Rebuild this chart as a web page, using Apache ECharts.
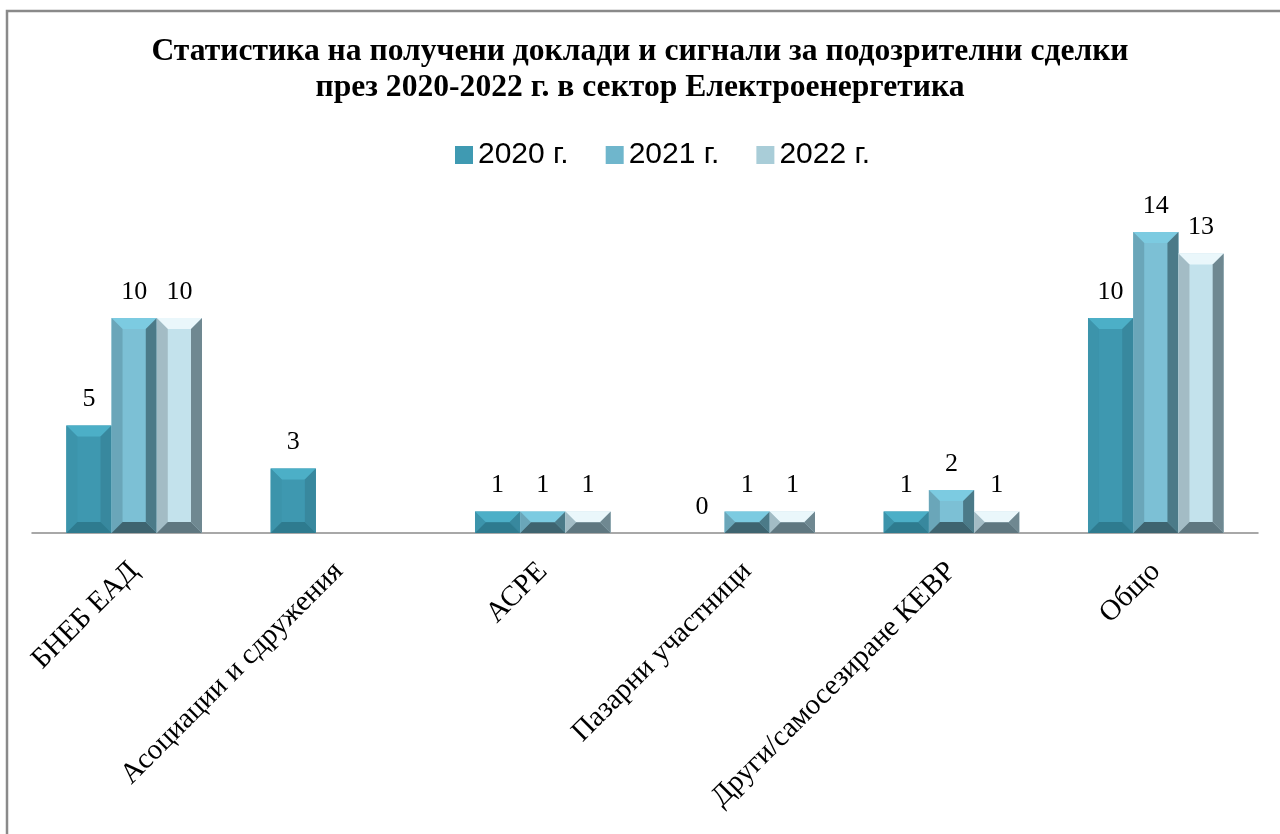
<!DOCTYPE html>
<html><head><meta charset="utf-8">
<script src="https://cdn.jsdelivr.net/npm/echarts@6/dist/echarts.min.js"></script>
<style>html,body{margin:0;padding:0;background:#fff}#c{width:1280px;height:834px}</style>
</head><body><div id="c"></div>
<script>
const categories = ['БНЕБ ЕАД','Асоциации и сдружения','АСРЕ','Пазарни участници','Други/самосезиране КЕВР','Общо'];
const seriesNames = ['2020 г.','2021 г.','2022 г.'];
const values2020 = [5, 3, 1, 0, 1, 10];
const values2021 = [10, null, 1, 1, 2, 14];
const values2022 = [10, null, 1, 1, 1, 13];
const allValues = [values2020, values2021, values2022];

// face colors
const palettes = [
  {base:'#3f9ab2', center:'#3e98b0', top:'#4cafc7', left:'#3c94ab', right:'#38889e', bottom:'#2e7b8f'},
  {base:'#6fb6cc', center:'#7cc0d5', top:'#7ccbe1', left:'#6aa6b9', right:'#4b7a88', bottom:'#3e6470'},
  {base:'#a9cdd8', center:'#c3e2ec', top:'#eaf7fb', left:'#a3bcc5', right:'#6f8891', bottom:'#5f7780'}
];

const chart = echarts.init(document.getElementById('c'));
const catGap = 0.336;

function makeRender(si){
  return function(params, api){
    const idx = api.value(0);
    const v = api.value(1);
    const band = api.size([1,0])[0];
    const bw = band*(1-catGap)/3;
    const c = api.coord([idx, 0]);
    const x0 = c[0] - band*(1-catGap)/2 + si*bw;
    const yb = c[1];
    const yt = api.coord([idx, v])[1];
    const h = yb - yt;
    const p = palettes[si];
    const children = [];
    if (h > 0.5) {
      const b = Math.min(11, h/2, bw/4);
      const x1 = x0 + bw;
      children.push({type:'rect', shape:{x:x0,y:yt,width:bw,height:h}, style:{fill:p.center}});
      children.push({type:'polygon', shape:{points:[[x0,yt],[x1,yt],[x1-b,yt+b],[x0+b,yt+b]]}, style:{fill:p.top}});
      children.push({type:'polygon', shape:{points:[[x0,yt],[x0+b,yt+b],[x0+b,yb-b],[x0,yb]]}, style:{fill:p.left}});
      children.push({type:'polygon', shape:{points:[[x1,yt],[x1,yb],[x1-b,yb-b],[x1-b,yt+b]]}, style:{fill:p.right}});
      children.push({type:'polygon', shape:{points:[[x0,yb],[x0+b,yb-b],[x1-b,yb-b],[x1,yb]]}, style:{fill:p.bottom}});
    }
    children.push({type:'text', style:{text:String(v), x:x0+bw/2, y:yt-13, textAlign:'center', textVerticalAlign:'bottom', font:'26px "Liberation Serif"', fill:'#000'}});
    return {type:'group', children:children};
  };
}

const series = seriesNames.map((name, si) => ({
  name: name,
  type: 'custom',
  renderItem: makeRender(si),
  itemStyle: {color: palettes[si].base},
  data: allValues[si].map((v,i) => v === null ? null : [i, v]).filter(d => d !== null),
  encode: {x:0, y:1}
}));

chart.setOption({
  animation: false,
  graphic: [{type:'rect', shape:{x:7, y:11, width:1290, height:840}, style:{fill:'none', stroke:'#8a8a8a', lineWidth:2.5}}],
  title: {
    text: 'Статистика на получени доклади и сигнали за подозрителни сделки\nпрез 2020-2022 г. в сектор Електроенергетика',
    left: 'center', top: 29,
    textStyle: {fontFamily:'Liberation Serif', fontWeight:'bold', fontSize:31.6, lineHeight:36, color:'#000'}
  },
  legend: {
    data: seriesNames, top: 135, left: 450,
    icon: 'rect', itemWidth: 18, itemHeight: 18, itemGap: 37,
    textStyle: {fontFamily:'Liberation Sans', fontSize:30, color:'#000'}
  },
  grid: {left: 32, right: 22, top: 189, height: 344, containLabel: false},
  xAxis: {
    type: 'category', data: categories,
    axisLine: {lineStyle:{color:'#8c8c8c', width:1.5}},
    axisTick: {show:false},
    axisLabel: {rotate:45, interval:0, margin:34, fontFamily:'Liberation Serif', fontSize:29, color:'#000'}
  },
  yAxis: {type:'value', min:0, max:16, show:false, splitLine:{show:false}},
  series: series
});
</script></body></html>
